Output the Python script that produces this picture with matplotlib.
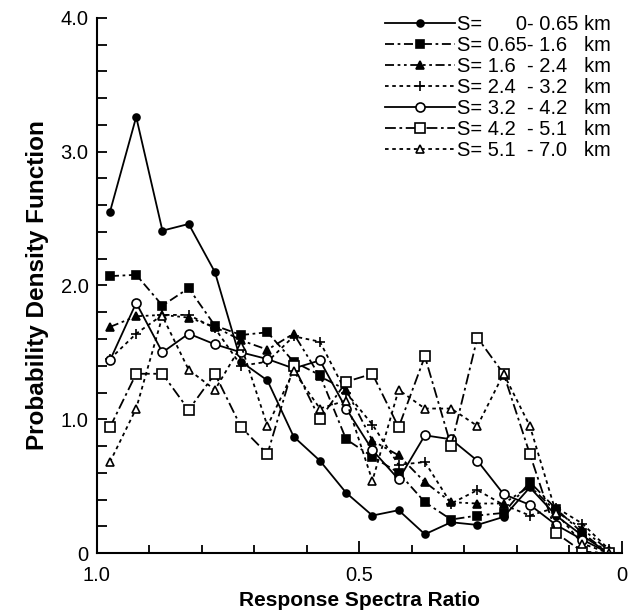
import numpy as np
import matplotlib
matplotlib.use("Agg")
import matplotlib.pyplot as plt
from matplotlib.ticker import MultipleLocator, FixedLocator, FixedFormatter

plt.rcParams['font.family'] = ['Liberation Sans', 'DejaVu Sans']

# centros das classes (razao de espectros)
razao = [0.975, 0.925, 0.875, 0.825, 0.775, 0.725, 0.675, 0.625, 0.575, 0.525,
         0.475, 0.425, 0.375, 0.325, 0.275, 0.225, 0.175, 0.125, 0.075, 0.025]

# densidade de probabilidade por faixa de distancia S
s_0_065 = [2.55, 3.26, 2.41, 2.46, 2.10, 1.43, 1.29, 0.87, 0.69, 0.45,
           0.28, 0.32, 0.14, 0.23, 0.21, 0.27, 0.49, 0.28, 0.13, 0.00]
s_065_16 = [2.07, 2.08, 1.85, 1.98, 1.70, 1.63, 1.65, 1.43, 1.33, 0.85,
            0.72, 0.60, 0.38, 0.25, 0.28, 0.30, 0.53, 0.33, 0.15, 0.00]
s_16_24 = [1.69, 1.77, 1.78, 1.76, 1.69, 1.59, 1.52, 1.64, 1.32, 1.22,
           0.84, 0.73, 0.53, 0.38, 0.37, 0.37, 0.50, 0.31, 0.18, 0.02]
s_24_32 = [1.45, 1.64, 1.78, 1.78, 1.68, 1.40, 1.43, 1.62, 1.58, 1.20,
           0.96, 0.66, 0.68, 0.37, 0.47, 0.36, 0.28, 0.34, 0.22, 0.03]
s_32_42 = [1.44, 1.87, 1.50, 1.64, 1.56, 1.50, 1.45, 1.38, 1.44, 1.08,
           0.77, 0.55, 0.88, 0.85, 0.69, 0.44, 0.36, 0.21, 0.10, 0.00]
s_42_51 = [0.94, 1.34, 1.34, 1.07, 1.34, 0.94, 0.74, 1.40, 1.00, 1.28,
           1.34, 0.94, 1.47, 0.80, 1.61, 1.34, 0.74, 0.15, 0.01, 0.00]
s_51_70 = [0.68, 1.08, 1.77, 1.37, 1.22, 1.55, 0.95, 1.36, 1.08, 1.14,
           0.54, 1.22, 1.08, 1.08, 0.95, 1.34, 0.95, 0.30, 0.07, 0.00]

rotulos = ["S=      0- 0.65 km",
           "S= 0.65- 1.6   km",
           "S= 1.6  - 2.4   km",
           "S= 2.4  - 3.2   km",
           "S= 3.2  - 4.2   km",
           "S= 4.2  - 5.1   km",
           "S= 5.1  - 7.0   km"]

series = [s_0_065, s_065_16, s_16_24, s_24_32, s_32_42, s_42_51, s_51_70]

# estilo de cada curva: tracejado, marcador, tamanho, preenchido
estilos = [
    ((), 'o', 5, True),
    ((5, 2, 1.5, 2), 's', 6, True),
    ((5, 2, 1.5, 2, 1.5, 2), '^', 5.5, True),
    ((2, 2), '+', 7, True),
    ((), 'o', 6.5, False),
    ((6, 2, 1.5, 2), 's', 6.5, False),
    ((2, 2), '^', 6, False),
]


def main():
    fig = plt.figure(figsize=(6.37, 6.12), dpi=100)
    ax = fig.add_axes([0.152, 0.0964, 0.824, 0.8742])

    for dados, rot, (tr, mk, ms, cheio) in zip(series, rotulos, estilos):
        ln, = ax.plot(razao, dados, color='black', lw=1.3, marker=mk, ms=ms,
                      mec='black', mfc='black' if cheio else 'white',
                      mew=1.2, label=rot)
        if tr:
            ln.set_dashes(tr)

    ax.set_xlim(1.0, 0.0)
    ax.set_ylim(0, 4.0)

    ax.spines['top'].set_visible(False)
    ax.spines['right'].set_visible(False)
    ax.spines['left'].set_linewidth(1.5)
    ax.spines['bottom'].set_linewidth(1.5)

    ax.xaxis.set_major_locator(FixedLocator([1.0, 0.5, 0.0]))
    ax.xaxis.set_major_formatter(FixedFormatter(["1.0", "0.5", "0"]))
    ax.xaxis.set_minor_locator(MultipleLocator(0.1))
    ax.yaxis.set_major_locator(FixedLocator([0, 1, 2, 3, 4]))
    ax.yaxis.set_major_formatter(FixedFormatter(["0", "1.0", "2.0", "3.0", "4.0"]))
    ax.yaxis.set_minor_locator(MultipleLocator(0.2))

    ax.tick_params(axis='x', which='major', direction='in', length=9, width=1.3,
                   labelsize=14.5, pad=9)
    ax.tick_params(axis='x', which='minor', direction='in', length=6, width=1.3)
    ax.tick_params(axis='y', which='both', direction='in', length=7, width=1.3,
                   labelsize=14.5, pad=6)

    ax.set_xlabel("Response Spectra Ratio", fontsize=15, fontweight='bold',
                  labelpad=5)
    ax.set_ylabel("Probability Density Function", fontsize=17.5,
                  fontweight='bold', labelpad=8)

    ax.legend(loc='upper right', bbox_to_anchor=(0.982, 0.998),
              bbox_transform=fig.transFigure, frameon=False, fontsize=14.5,
              handlelength=3.5, handletextpad=0.1, labelspacing=0.1,
              borderpad=0.2)

    fig.savefig("out.png", dpi=100)


if __name__ == "__main__":
    main()
